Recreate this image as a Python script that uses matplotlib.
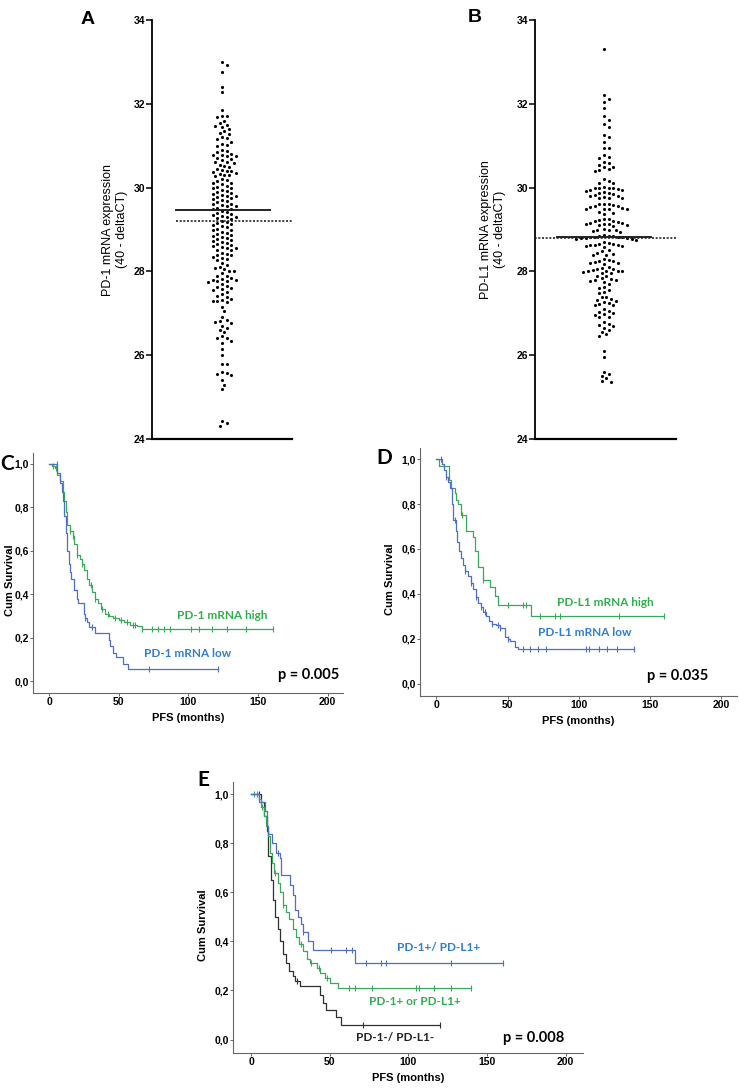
import numpy as np
import matplotlib
matplotlib.use('Agg')
import matplotlib.pyplot as plt

W, H = 739, 1092

# panel A / B: mRNA expression values (40 - deltaCT)
pd1_values = [33.0, 32.92, 32.75, 32.4, 32.28, 31.85,
              31.7, 31.7, 31.68, 31.6, 31.55,
              31.5, 31.48, 31.45, 31.4, 31.35, 31.3, 31.28,
              31.2, 31.18, 31.15, 31.1, 31.05, 31.02, 31.0,
              30.9, 30.88, 30.85, 30.8, 30.78, 30.78, 30.75, 30.75,
              30.7, 30.68, 30.65, 30.62, 30.6, 30.58, 30.55, 30.52, 30.5,
              30.45, 30.42, 30.4, 30.4, 30.38, 30.35, 30.32, 30.3, 30.3, 30.28,
              30.2, 30.18, 30.15, 30.12, 30.1, 30.08, 30.05, 30.02, 30.0,
              29.98, 29.95, 29.92, 29.9, 29.88, 29.85, 29.82, 29.8, 29.8, 29.78, 29.76,
              29.72, 29.7, 29.68, 29.65, 29.62, 29.6, 29.58, 29.56, 29.55, 29.52,
              29.5, 29.48, 29.45, 29.42, 29.4, 29.38, 29.35, 29.32, 29.3, 29.3, 29.28, 29.26,
              29.2, 29.18, 29.15, 29.12, 29.1, 29.08, 29.05, 29.02, 29.0,
              28.98, 28.95, 28.92, 28.9, 28.88, 28.85, 28.82, 28.8, 28.78, 28.76,
              28.72, 28.7, 28.68, 28.65, 28.62, 28.6, 28.58, 28.56, 28.55, 28.52, 28.5,
              28.45, 28.42, 28.4, 28.38, 28.35, 28.32, 28.3, 28.28,
              28.2, 28.15, 28.1, 28.08, 28.05, 28.02, 28.0,
              27.95, 27.9, 27.88, 27.85, 27.82, 27.8, 27.8, 27.78, 27.76, 27.75,
              27.7, 27.65, 27.62, 27.6, 27.58, 27.55, 27.52,
              27.45, 27.42, 27.4, 27.35, 27.32, 27.3, 27.3, 27.28,
              27.15, 27.05,
              26.92, 26.85, 26.82, 26.8, 26.78,
              26.7, 26.65, 26.6, 26.55,
              26.45, 26.42, 26.4, 26.35, 26.3,
              26.15, 26.0, 25.8, 25.78,
              25.6, 25.58, 25.55, 25.52, 25.4, 25.3, 25.2,
              24.42, 24.38, 24.32]
pd1_mean = 29.47
pd1_cut = 29.2

pdl1_values = [33.3,
               32.2, 32.12, 32.05, 31.9,
               31.7, 31.62, 31.52, 31.45, 31.25, 31.2, 31.1,
               30.95, 30.95, 30.78, 30.72, 30.7,
               30.6, 30.58, 30.55, 30.5, 30.48, 30.45, 30.42, 30.4,
               30.2, 30.15, 30.12, 30.1,
               30.02, 30.0, 30.0, 29.98, 29.98, 29.96, 29.95, 29.94, 29.92, 29.9,
               29.88, 29.86, 29.84, 29.82, 29.8, 29.8, 29.78, 29.76, 29.75, 29.75,
               29.62, 29.6, 29.6, 29.58, 29.56, 29.55, 29.54, 29.52, 29.5, 29.5, 29.5, 29.48,
               29.42, 29.4, 29.38,
               29.25, 29.24, 29.22, 29.2, 29.2, 29.18, 29.16, 29.15, 29.14, 29.12, 29.12, 29.1, 29.1, 29.08,
               29.02, 29.0, 29.0, 28.98, 28.96, 28.95,
               28.86, 28.85, 28.84, 28.84, 28.83, 28.82, 28.82, 28.81, 28.8, 28.8, 28.79, 28.78, 28.78, 28.76,
               28.7, 28.68, 28.66, 28.65, 28.64, 28.62, 28.62, 28.6, 28.6, 28.58,
               28.5, 28.48, 28.45, 28.42, 28.4, 28.4,
               28.3, 28.28, 28.26, 28.25, 28.22, 28.2, 28.2, 28.18,
               28.1, 28.08, 28.06, 28.05, 28.04, 28.02, 28.02, 28.0, 28.0, 27.98, 27.96, 27.95,
               27.9, 27.88, 27.85, 27.82, 27.8, 27.8, 27.78, 27.75,
               27.7, 27.62, 27.6, 27.55, 27.5, 27.48,
               27.4, 27.38, 27.35, 27.32, 27.3, 27.28, 27.25, 27.22, 27.2, 27.2,
               27.1, 27.05, 27.02, 27.0, 26.98, 26.95, 26.92, 26.9,
               26.8, 26.75, 26.72, 26.7, 26.65, 26.6,
               26.55, 26.5, 26.45,
               26.1, 25.95,
               25.6, 25.55, 25.5, 25.45, 25.38, 25.36]
pdl1_mean = 28.82
pdl1_cut = 28.8

# panel C: PD-1 groups (months, cum survival)
c_high_t = [0, 2, 4, 6, 8, 10, 11, 12, 13, 15, 17, 18, 20, 22, 24, 25, 27, 29, 31, 33, 35, 37, 40, 43, 46, 50, 54, 58, 63, 67]
c_high_s = [1.0, 0.99, 0.98, 0.95, 0.92, 0.87, 0.83, 0.78, 0.72, 0.69, 0.67, 0.63, 0.58, 0.56, 0.54, 0.51, 0.47, 0.44, 0.41, 0.38, 0.36, 0.33, 0.31, 0.30, 0.29, 0.28, 0.27, 0.26, 0.255, 0.24]
c_high_end = 161
c_high_cens = [3, 5, 15, 17, 20, 24, 30, 33, 38, 42, 47, 52, 56, 60, 62, 67, 74, 78, 82.5, 87, 102, 108, 117, 128, 141.5, 161]
c_low_t = [0, 6, 8, 9, 10, 11, 12, 13, 14, 15, 16, 18, 20, 21, 25, 26, 27, 29, 33, 43, 44, 46, 48, 53, 57]
c_low_s = [1.0, 0.96, 0.91, 0.87, 0.83, 0.76, 0.68, 0.60, 0.54, 0.50, 0.47, 0.42, 0.38, 0.36, 0.31, 0.29, 0.27, 0.25, 0.22, 0.19, 0.16, 0.13, 0.11, 0.08, 0.055]
c_low_end = 121
c_low_cens = [5.5, 26, 31, 72, 121]

# panel D: PD-L1 groups
d_high_t = [0, 1.5, 9, 10, 13, 14, 15.5, 17.5, 21, 25.5, 27, 29.5, 33, 37.5, 41, 43, 66.7]
d_high_s = [1.0, 0.97, 0.906, 0.87, 0.85, 0.82, 0.80, 0.75, 0.68, 0.655, 0.59, 0.52, 0.46, 0.43, 0.39, 0.35, 0.30]
d_high_end = 160
d_high_cens = [18, 33, 50, 60.6, 63, 73, 83, 87, 128, 160]
d_low_t = [0, 4, 5, 7, 8, 9.5, 11, 12, 13.5, 14.5, 15.6, 17, 18.5, 20, 22, 24, 26, 27.5, 29, 31, 33, 34.5, 37, 39, 42, 45, 48, 50, 52, 55.5, 57]
d_low_s = [1.0, 0.98, 0.95, 0.92, 0.90, 0.87, 0.80, 0.73, 0.68, 0.63, 0.59, 0.56, 0.53, 0.50, 0.48, 0.45, 0.42, 0.385, 0.36, 0.34, 0.32, 0.30, 0.28, 0.265, 0.26, 0.25, 0.21, 0.20, 0.19, 0.165, 0.155]
d_low_end = 139
d_low_cens = [3, 7, 13, 20, 24, 27.5, 31, 34, 39, 43, 45, 50, 61, 65.6, 71.4, 77, 105, 107, 114, 120, 127, 139]

# panel E: combined groups
e_both_t = [0, 5, 9, 10, 11, 13, 16, 18.5, 19, 25, 26.5, 28, 30, 31.5, 33, 36, 39.5, 66]
e_both_s = [1.0, 0.97, 0.93, 0.87, 0.84, 0.80, 0.76, 0.74, 0.67, 0.63, 0.59, 0.53, 0.50, 0.47, 0.44, 0.40, 0.365, 0.31]
e_both_end = 160
e_both_cens = [17, 33, 51, 60.5, 64, 73, 82.5, 86, 127, 160]
e_one_t = [0, 5, 6, 8, 9.5, 10.7, 11.8, 13.2, 14.7, 17, 18.5, 20, 22, 24.4, 26.5, 28.6, 30.7, 32.8, 35.3, 37.4, 41.6, 44, 47, 50, 55]
e_one_s = [1.0, 0.98, 0.95, 0.91, 0.87, 0.83, 0.76, 0.72, 0.68, 0.64, 0.60, 0.55, 0.52, 0.49, 0.45, 0.42, 0.39, 0.36, 0.33, 0.31, 0.29, 0.27, 0.25, 0.23, 0.21]
e_one_end = 140
e_one_cens = [2, 4, 7, 15, 20, 32, 38, 43, 48, 62, 66, 77, 104.6, 107, 116, 127, 140]
e_neg_t = [0, 6, 8.4, 10, 11, 12.6, 13.9, 15.3, 17, 18.5, 20.6, 22.3, 24.4, 26.5, 28, 31, 43.7, 45.8, 47.5, 54, 57.4]
e_neg_s = [1.0, 0.97, 0.91, 0.85, 0.75, 0.65, 0.57, 0.50, 0.45, 0.40, 0.35, 0.31, 0.28, 0.26, 0.24, 0.22, 0.18, 0.15, 0.12, 0.09, 0.06]
e_neg_end = 120
e_neg_cens = [5, 29, 71, 120]

GREEN = '#3aa85a'
GREEN_TXT = '#2fb04c'
BLUE = '#4f6fc0'
BLUE_TXT = '#2f7fcf'
BLACK = '#303030'

ARIAL = 'Liberation Sans'
CALIBRI = 'Lato'


def box(l, t, r, b):
    return [l / W, 1 - b / H, (r - l) / W, (b - t) / H]


def swarm_x(values, px_per_unit, d):
    # simple beeswarm layout in pixel space
    order = np.argsort(values)[::-1]
    placed = []
    xs = np.zeros(len(values))
    step = d * 0.5
    for i in order:
        y = values[i] * px_per_unit
        near = [(px, py) for px, py in placed if abs(py - y) < d]
        k = 0
        while True:
            cand = (k + 1) // 2 * step * (1 if k % 2 else -1)
            if all((cand - px) ** 2 + (y - py) ** 2 >= d * d for px, py in near):
                break
            k += 1
        xs[i] = cand
        placed.append((cand, y))
    return xs


def dot_panel(rect, values, mean, cut, center_px, solid_px, dotted_px, ylabel, label_x):
    l, t, r, b = rect
    ax = fig.add_axes(box(l, t, r, b))
    width = r - l
    ppu = (b - t) / 10.0
    offs = swarm_x(np.array(values), ppu, 4.6)
    ax.scatter((center_px - l + offs) / width, values, s=5, color='black', linewidths=0, zorder=3)
    ax.plot([(solid_px[0] - l) / width, (solid_px[1] - l) / width], [mean, mean], color='#222222', lw=1.4, zorder=4)
    ax.plot([(dotted_px[0] - l) / width, (dotted_px[1] - l) / width], [cut, cut], color='#222222', lw=1.2,
            ls=(0, (1.2, 1.0)), zorder=4)
    ax.set_xlim(0, 1)
    ax.set_ylim(24, 34)
    ax.set_yticks([24, 26, 28, 30, 32, 34])
    ax.set_xticks([])
    for s in ['top', 'right']:
        ax.spines[s].set_visible(False)
    ax.spines['left'].set_linewidth(1.3)
    ax.spines['bottom'].set_linewidth(1.6)
    ax.tick_params(axis='y', length=4, width=1.1, pad=1, labelsize=7.5)
    for lab in ax.get_yticklabels():
        lab.set_fontfamily(ARIAL)
        lab.set_fontweight('bold')
    ax.set_ylabel(ylabel, fontsize=9, family=ARIAL, linespacing=1.15)
    ax.yaxis.set_label_coords((label_x - l) / width, 0.5)
    ax.yaxis.label.set_va('center')
    return ax


def km_curve(ax, t, s, end, cens, color):
    tt = list(t) + [end]
    ss = list(s) + [s[-1]]
    ax.step(tt, ss, where='post', color=color, lw=0.9)
    idx = np.searchsorted(np.array(t), np.array(cens), side='right') - 1
    cy = np.array(s)[idx]
    ax.plot(cens, cy, ls='none', marker='|', ms=4, mew=0.8, color=color)


def km_axes(rect, ylab_x):
    l, t, r, b = rect
    ax = fig.add_axes(box(l, t, r, b))
    ax.set_xlim(-11.5, 211)
    ax.set_ylim(-0.055, 1.05)
    ax.set_xticks([0, 50, 100, 150, 200])
    ax.set_yticks([0, 0.2, 0.4, 0.6, 0.8, 1.0])
    ax.set_yticklabels(['0,0', '0,2', '0,4', '0,6', '0,8', '1,0'])
    for s in ['top', 'right']:
        ax.spines[s].set_visible(False)
    for s in ['left', 'bottom']:
        ax.spines[s].set_color('#666666')
        ax.spines[s].set_linewidth(0.8)
    ax.tick_params(length=2, width=0.7, color='#666666', labelsize=7.5, pad=1)
    for lab in ax.get_xticklabels() + ax.get_yticklabels():
        lab.set_fontfamily(ARIAL)
        lab.set_fontweight('bold')
    ax.set_xlabel('PFS (months)', fontsize=8, family=ARIAL, weight='bold', labelpad=4)
    ax.set_ylabel('Cum Survival', fontsize=8, family=ARIAL, weight='bold')
    ax.yaxis.set_label_coords((ylab_x - l) / (r - l), 0.47)
    ax.yaxis.label.set_va('center')
    return ax


fig = plt.figure(figsize=(W / 100, H / 100), dpi=100)

dot_panel((152, 20, 292, 439), pd1_values, pd1_mean, pd1_cut, 222, (176, 270), (176, 292),
          'PD-1 mRNA expression\n(40 - deltaCT)', 115)
dot_panel((535, 20, 676, 439), pdl1_values, pdl1_mean, pdl1_cut, 604, (557, 651), (531, 676),
          'PD-L1 mRNA expression\n(40 - deltaCT)', 493)
fig.text(88 / W, 1 - 20 / H, 'A', fontsize=14, weight='bold', family=ARIAL, ha='center', va='center')
fig.text(475 / W, 1 - 18 / H, 'B', fontsize=14, weight='bold', family=ARIAL, ha='center', va='center')

# C
axc = km_axes((33, 453, 343, 693), 10)
km_curve(axc, c_high_t, c_high_s, c_high_end, c_high_cens, GREEN)
km_curve(axc, c_low_t, c_low_s, c_low_end, c_low_cens, BLUE)
axc.text(92, 0.30, 'PD-1 mRNA high', color=GREEN_TXT, fontsize=8.5, weight='bold', family=CALIBRI, va='center')
axc.text(68.5, 0.125, 'PD-1 mRNA low', color=BLUE_TXT, fontsize=8.5, weight='bold', family=CALIBRI, va='center')
axc.text(164, 0.03, 'p = 0.005', color='black', fontsize=10.5, weight='bold', family=CALIBRI, va='center')
fig.text(7 / W, 1 - 464 / H, 'C', fontsize=15, weight='bold', family=CALIBRI, ha='center', va='center')

# D
axd = km_axes((420, 448, 737, 696), 390)
km_curve(axd, d_high_t, d_high_s, d_high_end, d_high_cens, GREEN)
km_curve(axd, d_low_t, d_low_s, d_low_end, d_low_cens, BLUE)
axd.text(85, 0.36, 'PD-L1 mRNA high', color=GREEN_TXT, fontsize=8.5, weight='bold', family=CALIBRI, va='center')
axd.text(71, 0.23, 'PD-L1 mRNA low', color=BLUE_TXT, fontsize=8.5, weight='bold', family=CALIBRI, va='center')
axd.text(148, 0.035, 'p = 0.035', color='black', fontsize=10.5, weight='bold', family=CALIBRI, va='center')
fig.text(384 / W, 1 - 458 / H, 'D', fontsize=15, weight='bold', family=CALIBRI, ha='center', va='center')

# E
axe = km_axes((233, 782, 583, 1053), 203)
km_curve(axe, e_neg_t, e_neg_s, e_neg_end, e_neg_cens, BLACK)
km_curve(axe, e_one_t, e_one_s, e_one_end, e_one_cens, GREEN)
km_curve(axe, e_both_t, e_both_s, e_both_end, e_both_cens, BLUE)
axe.text(93, 0.377, 'PD-1+/ PD-L1+', color=BLUE_TXT, fontsize=8.5, weight='bold', family=CALIBRI, va='center')
axe.text(75, 0.156, 'PD-1+ or PD-L1+', color=GREEN_TXT, fontsize=8.5, weight='bold', family=CALIBRI, va='center')
axe.text(67, 0.007, 'PD-1-/ PD-L1-', color='#222222', fontsize=8.5, weight='bold', family=CALIBRI, va='center')
axe.text(160, 0.007, 'p = 0.008', color='black', fontsize=10.5, weight='bold', family=CALIBRI, va='center')
fig.text(203 / W, 1 - 780 / H, 'E', fontsize=15, weight='bold', family=CALIBRI, ha='center', va='center')

fig.savefig('out.png', dpi=100)
